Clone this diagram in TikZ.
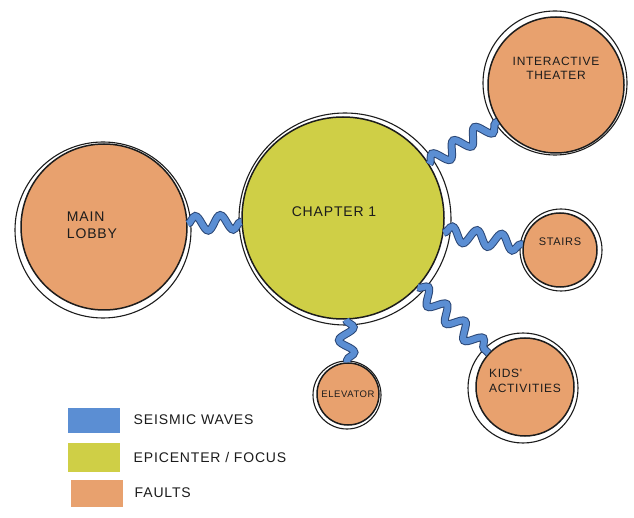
\documentclass[tikz,border=0pt]{standalone}
\usepackage{fontspec}
\setmainfont{Liberation Sans}
\newfontfamily\handfont[LetterSpace=6]{Liberation Sans}
\usetikzlibrary{positioning, decorations.pathmorphing}
\definecolor{faultorange}{HTML}{E8A16E}
\definecolor{inkblack}{HTML}{1C1C1C}
\definecolor{epiyellow}{HTML}{CFCF46}
\definecolor{waveblue}{HTML}{5B8ED3}
\definecolor{wavedark}{HTML}{2A4675}

\begin{document}
\begin{tikzpicture}[
    x=1pt, y=-1pt,
    fault/.style={circle, draw=inkblack, line width=1.5pt, fill=faultorange, inner sep=0pt, align=center, text=inkblack},
    epicenter/.style={fault, fill=epiyellow},
    ring/.style={draw=inkblack, line width=1.1pt},
    wave/.style={decorate, decoration={snake, segment length=25pt, amplitude=7.5pt},
      draw=wavedark, line width=1pt, double=waveblue, double distance=6pt},
    swatch/.style={rectangle, minimum width=52pt, inner sep=0pt},
    legend/.style={font=\handfont\fontsize{14}{16}\selectfont, text=inkblack},
]
    \useasboundingbox[fill=white] (0,0) rectangle (634,518);

    % Epicenter and faults
    \node[epicenter, minimum size=202pt, font=\handfont\fontsize{14}{17}\selectfont] (chapter) at (343,218) {CHAPTER 1\hspace*{18pt}\\[-4pt]};
    \node[fault, minimum size=166pt, font=\handfont\fontsize{14}{17}\selectfont] (lobby) at (104,227)
      {\hspace*{-24pt}\raisebox{10pt}{\begin{tabular}{@{}l@{}}MAIN\\LOBBY\end{tabular}}};
    \node[fault, minimum size=136pt, font=\handfont\fontsize{12}{14}\selectfont] (theater) at (556,85) {INTERACTIVE\\THEATER\\[20pt]};
    \node[fault, minimum size=74pt, font=\handfont\fontsize{11}{13}\selectfont] (stairs) at (560,250) {STAIRS\\[4pt]};
    \node[fault, minimum size=62pt, font=\handfont\fontsize{9.5}{11}\selectfont] (elevator) at (348,394) {ELEVATOR};
    \node[fault, minimum size=98pt, align=left, font=\handfont\fontsize{12}{15}\selectfont] (kids) at (525,387) {KIDS'\\ACTIVITIES\\[-3pt]};

    % Outer rings
    \draw[ring] (345,219) circle[radius=106pt];
    \draw[ring] (103,230) circle[radius=88pt];
    \draw[ring] (555,83) circle[radius=72pt];
    \draw[ring] (561,250) circle[radius=41pt];
    \draw[ring] (347,395) circle[radius=34pt];
    \draw[ring] (523,388) circle[radius=55pt];

    % Seismic waves
    \draw[wave] (lobby) -- (chapter);
    \draw[wave] (chapter) -- (theater);
    \draw[wave] (chapter) -- (stairs);
    \draw[wave] (chapter) -- (kids);
    \draw[wave] (chapter) -- (elevator);

    % Legend
    \node[swatch, fill=waveblue, minimum height=25pt] (sw-waves) at (94,420) {};
    \node[swatch, fill=epiyellow, minimum height=29pt] (sw-epi) at (94,457) {};
    \node[swatch, fill=faultorange, minimum height=27pt] (sw-faults) at (97,493) {};
    \node[legend, right=10pt of sw-waves] (lg-waves) {SEISMIC WAVES};
    \node[legend, right=10pt of sw-epi] (lg-epi) {EPICENTER / FOCUS};
    \node[legend, right=8pt of sw-faults] (lg-faults) {FAULTS};
\end{tikzpicture}
\end{document}
